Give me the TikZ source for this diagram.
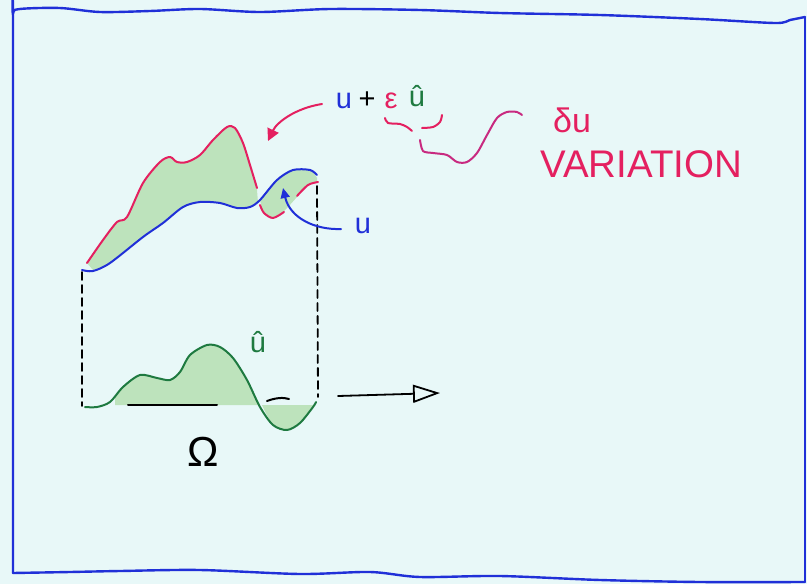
\documentclass[tikz,border=0pt]{standalone}
\usepackage{fontspec}
\setmainfont{Liberation Sans}
\usetikzlibrary{arrows.meta}
\definecolor{paper}{HTML}{E8F8F8}
\definecolor{pblue}{HTML}{2030D8}
\definecolor{pred}{HTML}{E42060}
\definecolor{pgreen}{HTML}{1E7A40}
\definecolor{pfill}{HTML}{BDE3BC}
\definecolor{pmag}{HTML}{C82A80}
\begin{document}
\begin{tikzpicture}[x=1pt,y=-1pt,line cap=round,line join=round,
  pen/.style={line width=2pt},
  frame/.style={pblue,line width=2.4pt},
  dashline/.style={black,line width=1.8pt,dash pattern=on 8pt off 5pt},
  lbl/.style={inner sep=0pt,font=\fontsize{29}{29}\selectfont},
  biglbl/.style={inner sep=0pt,font=\fontsize{38.5}{38.5}\selectfont}]
\fill[paper] (0,0) rectangle (807,584);
\useasboundingbox (0,0) rectangle (807,584);

% frame
\draw[frame] plot[smooth,tension=0.5] coordinates {(13,573) (13,40) (13,14) (20,9) (60,8) (100,12) (150,11) (200,9) (260,12) (330,9) (420,10) (500,13) (600,15) (700,19) (775,23) (790,20) (805,17)};
\draw[frame,line width=1.4pt] (805,17) -- (805,582);
\draw[frame] plot[smooth,tension=0.5] coordinates {(13,573) (70,572) (120,571) (200,570) (300,574) (370,572) (420,577) (500,576) (600,580) (700,582) (805,582)};

% fills
\fill[pfill] plot[smooth] coordinates {(87,263) (103,240) (117,222) (127,217) (143,183) (160,162) (170,157) (177,162) (187,162) (200,155) (213,140) (227,127) (235,128) (243,143) (250,165) (257,190)}
  -- plot[smooth] coordinates {(258,203) (250,207) (237,208) (220,203) (200,202) (183,207) (163,223) (143,237) (110,263) (93,270)} -- cycle;
\fill[pfill] plot[smooth] coordinates {(260,200) (277,180) (293,170) (310,170) (317,178)}
  -- plot[smooth] coordinates {(317,182) (307,185) (297,197) (283,212) (273,218) (263,213)} -- cycle;
\fill[pfill] plot[smooth] coordinates {(115,398) (123,387) (140,375) (157,378) (170,380) (180,372) (190,355) (207,345) (220,347) (233,358) (247,380) (260,405)} -- (115,405) -- cycle;
\fill[pfill] plot[smooth] coordinates {(262,405) (273,425) (287,430) (300,423) (313,405)} -- cycle;

% dashed projection lines
\coordinate (dl1) at (82,272);
\coordinate (dl2) at (82,406);
\coordinate (dr1) at (317,186);
\coordinate (dr2) at (318,397);
\draw[dashline] (dl1) -- (dl2);
\draw[dashline] (dr1) -- (dr2);

% axis
\coordinate (ax1) at (338,396);
\coordinate (ax2) at (440,393);
\draw[black,line width=1.8pt,-{Triangle[open,length=27pt,width=18pt,line width=1.8pt]}] (ax1) -- (ax2);

% upper curves
\draw[pblue,pen] plot[smooth] coordinates {(82,270) (93,271) (110,263) (143,237) (163,223) (183,207) (200,202) (220,203) (237,208) (250,207) (260,200) (277,180) (293,170) (310,170) (317,175)};
\draw[pred,pen] plot[smooth] coordinates {(87,263) (103,240) (117,222) (127,217) (143,183) (160,162) (170,157) (177,162) (187,162) (200,155) (213,140) (227,127) (235,128) (243,143) (250,165) (257,188)};
\draw[pred,pen] plot[smooth] coordinates {(260,205) (264,213) (273,218) (284,212)};
\draw[pred,pen] plot[smooth] coordinates {(297,196) (308,185) (318,182)};

% lower curve
\draw[pgreen,pen] plot[smooth] coordinates {(85,407) (97,407) (110,402) (123,387) (140,375) (157,378) (170,380) (180,372) (190,355) (207,345) (220,347) (233,358) (247,380) (260,407) (273,425) (287,430) (300,423) (313,407) (316,402)};
\coordinate (om1) at (128,405);
\coordinate (om2) at (217,405);
\draw[black,pen] (om1) -- (om2);
\coordinate (sm1) at (267,401);
\coordinate (sm2) at (289,399);
\draw[black,pen] (sm1) .. controls (275,398) and (283,397) .. (sm2);

% labels
\node[lbl,pblue] (uplus) at (344,101) {u};
\node[lbl,black] (plus) at (367,100) {+};
\node[lbl,pred] (eps) at (391,101) {ε};
\node[lbl,pgreen] (uhat) at (417,96) {û};
\node[lbl,pblue] (ulab) at (363,226) {u};
\node[lbl,pgreen] (uhat2) at (258,342) {û};
\node[inner sep=0pt,font=\fontsize{42}{42}\selectfont,black] (omega) at (203,452) {Ω};
\node[inner sep=0pt,font=\fontsize{34}{34}\selectfont,pred] (du) at (572,120) {δu};
\node[biglbl,pred,anchor=west] (var) at (540,164) {VARIATION};

% arrow to u + eps uhat
\coordinate (ra1) at (322,104);
\coordinate (ra2) at (268,141);
\draw[pred,pen,-{Triangle[length=12pt,width=12pt]}] (ra1) .. controls (296,108) and (277,122) .. (ra2);

% arrow to u
\coordinate (ba1) at (341,229);
\coordinate (ba2) at (283,188);
\draw[pblue,pen,-{Triangle[length=10pt,width=9pt]}] (ba1) .. controls (315,230) and (290,218) .. (ba2);

% brace and squiggle
\draw[pred,pen] plot[smooth] coordinates {(385,118) (388,123) (400,124) (407,127) (412,131)};
\draw[pred,pen] plot[smooth] coordinates {(422,128) (433,127) (440,122) (442,115)};
\draw[pmag,pen] plot[smooth] coordinates {(420,140) (423,151) (433,153) (447,155) (457,162) (467,162) (477,153) (487,135) (497,118) (507,112) (517,112) (522,115)};
\end{tikzpicture}
\end{document}
